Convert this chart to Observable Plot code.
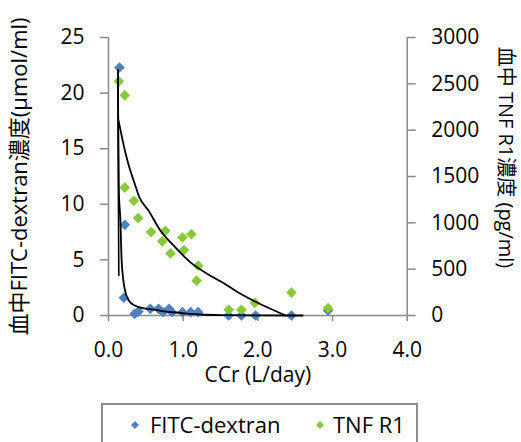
<!DOCTYPE html>
<html><head><meta charset="utf-8">
<script src="https://cdn.jsdelivr.net/npm/d3@7"></script>
<script src="https://cdn.jsdelivr.net/npm/@observablehq/plot@0.6"></script>
<style>
body{margin:0;background:#fff;}
#wrap{position:relative;width:521px;height:442px;overflow:hidden;font-family:"Open Sans","Noto Sans CJK JP",sans-serif;}
#legend{position:absolute;left:101px;top:403px;width:317px;height:70px;border:2.5px solid #8c8c8c;box-sizing:border-box;background:#fff;}
.lg{position:absolute;font-size:22px;line-height:22px;color:#000;white-space:nowrap;}
.mk{position:absolute;}
</style>
</head><body>
<div id="wrap"></div>
<script>
// FITC-dextran (left axis, µmol/ml)
const fitcX = [0.147, 0.218, 0.205, 0.35, 0.40, 0.56, 0.67, 0.73, 0.81, 0.85, 0.99, 1.10, 1.20, 1.61, 1.78, 1.97, 2.45, 2.94];
const fitcY = [22.3, 8.15, 1.6, 0.15, 0.35, 0.6, 0.6, 0.3, 0.6, 0.3, 0.3, 0.3, 0.3, 0.0, 0.0, 0.0, 0.0, 0.45];
// TNF R1 (right axis, pg/ml)
const tnfX = [0.138, 0.218, 0.218, 0.339, 0.397, 0.57, 0.72, 0.76, 0.83, 0.99, 1.01, 1.11, 1.20, 1.18, 1.61, 1.78, 1.96, 2.45, 2.94];
const tnfY = [2527, 2376, 1380, 1237, 1051, 900, 800, 914, 670, 842, 706, 878, 538, 376, 61, 61, 136, 247, 79];
// trend lines
const fitcFitX = [0.125, 0.138, 0.161, 0.174, 0.205, 0.235, 0.272, 0.33, 0.406, 0.5, 0.629, 0.75, 0.897, 1.05, 1.23, 1.5, 1.9, 2.6];
const fitcFitY = [22.07, 11.3, 8.3, 5.25, 2.86, 1.9, 1.35, 0.98, 0.75, 0.62, 0.51, 0.38, 0.27, 0.17, 0.09, 0.04, 0.02, 0];
const fitcFit2X = [0.125, 0.138];
const fitcFit2Y = [22.07, 3.6];
const tnfFitX = [0.13, 0.161, 0.205, 0.264, 0.361, 0.406, 0.539, 0.696, 0.874, 1.098, 1.365, 1.522, 1.744, 1.968, 2.191, 2.37];
const tnfFitY = [2115, 2000, 1830, 1640, 1398, 1290, 1129, 914, 753, 573, 430, 358, 245, 148, 65, 0];
// ticks
const xTicks = [0, 1, 2, 3, 4];
const leftTicks = [0, 5, 10, 15, 20, 25];
const rightTicks = [0, 500, 1000, 1500, 2000, 2500, 3000];
const seriesNames = ["FITC-dextran", "TNF R1"];
const colors = ["#4f81bd", "#86c93c"];
const xLabel = "CCr (L/day)";
const leftTitle = "血中FITC-dextran濃度(μmol/ml)";
const rightTitle = "血中 TNF R1濃度 (pg/ml)";

const toLeft = d3.scaleLinear().domain([0, 3000]).range([0, 25]);
const fitc = fitcX.map((x, i) => ({x, y: fitcY[i]}));
const tnf = tnfX.map((x, i) => ({x, y: toLeft(tnfY[i])}));
const fitcFit = fitcFitX.map((x, i) => ({x, y: fitcFitY[i]}));
const fitcFit2 = fitcFit2X.map((x, i) => ({x, y: fitcFit2Y[i]}));
const tnfFit = tnfFitX.map((x, i) => ({x, y: toLeft(tnfFitY[i])}));

const axisColor = "#898989";
const font = '"Open Sans","Noto Sans CJK JP",sans-serif';

const chart = Plot.plot({
  width: 521, height: 442,
  marginLeft: 108, marginRight: 114.3, marginTop: 37, marginBottom: 127,
  x: {domain: [0, 4]},
  y: {domain: [0, 25]},
  style: {fontFamily: font, fontSize: "21px", color: "#000", background: "transparent", overflow: "visible"},
  marks: [
    Plot.ruleX([0, 4], {stroke: axisColor, strokeWidth: 1.5}),
    Plot.ruleY([0], {stroke: axisColor, strokeWidth: 1.5}),
    Plot.axisX({ticks: xTicks, tickFormat: d3.format(".1f"), tickSize: 6, tickPadding: 21, stroke: axisColor, strokeWidth: 1.5, fill: "#000", label: null}),
    Plot.axisY({anchor: "left", ticks: leftTicks, tickFormat: d => String(d), tickSize: 8, tickPadding: 16, stroke: axisColor, strokeWidth: 1.5, fill: "#000", label: null}),
    Plot.axisY({anchor: "right", ticks: rightTicks.map(toLeft), tickFormat: d => String(Math.round(toLeft.invert(d))), tickSize: 8, tickPadding: 16, stroke: axisColor, strokeWidth: 1.5, fill: "#000", label: null}),
    Plot.dot(fitc, {x: "x", y: "y", symbol: "diamond2", r: 4.8, fill: colors[0], stroke: "none"}),
    Plot.dot(tnf, {x: "x", y: "y", symbol: "diamond2", r: 4.8, fill: colors[1], stroke: "none"}),
    Plot.line(fitcFit, {x: "x", y: "y", stroke: "#000", strokeWidth: 1.8, curve: "monotone-x"}),
    Plot.line(fitcFit2, {x: "x", y: "y", stroke: "#000", strokeWidth: 1.6}),
    Plot.line(tnfFit, {x: "x", y: "y", stroke: "#000", strokeWidth: 1.8, curve: "monotone-x"}),
    Plot.text([xLabel], {text: d => d, frameAnchor: "bottom", textAnchor: "middle", lineAnchor: "middle", dy: 60, fontSize: 21, fill: "#000"}),
    Plot.text([leftTitle], {text: d => d, frameAnchor: "left", textAnchor: "middle", lineAnchor: "middle", dx: -89, dy: 0, rotate: -90, fontSize: 22, fill: "#000"}),
    Plot.text([rightTitle], {text: d => d, frameAnchor: "right", textAnchor: "middle", lineAnchor: "middle", dx: 98.5, dy: -19, rotate: 90, fontSize: 20, fill: "#000"})
  ]
});

const wrap = document.getElementById("wrap");
wrap.appendChild(chart);

// legend
const legend = document.createElement("div");
legend.id = "legend";
wrap.appendChild(legend);
const items = [{mx: 135, tx: 150}, {mx: 320, tx: 333}];
seriesNames.forEach((name, i) => {
  const svg = document.createElementNS("http://www.w3.org/2000/svg", "svg");
  svg.setAttribute("width", 10); svg.setAttribute("height", 10);
  svg.setAttribute("class", "mk");
  svg.style.left = (items[i].mx - 5) + "px";
  svg.style.top = (425 - 5) + "px";
  const p = document.createElementNS("http://www.w3.org/2000/svg", "path");
  p.setAttribute("d", "M5,1L9,5L5,9L1,5Z");
  p.setAttribute("fill", colors[i]);
  svg.appendChild(p);
  wrap.appendChild(svg);
  const t = document.createElement("div");
  t.className = "lg";
  t.textContent = name;
  t.style.left = items[i].tx + "px";
  t.style.top = "413px";
  wrap.appendChild(t);
});
</script>
</body></html>
